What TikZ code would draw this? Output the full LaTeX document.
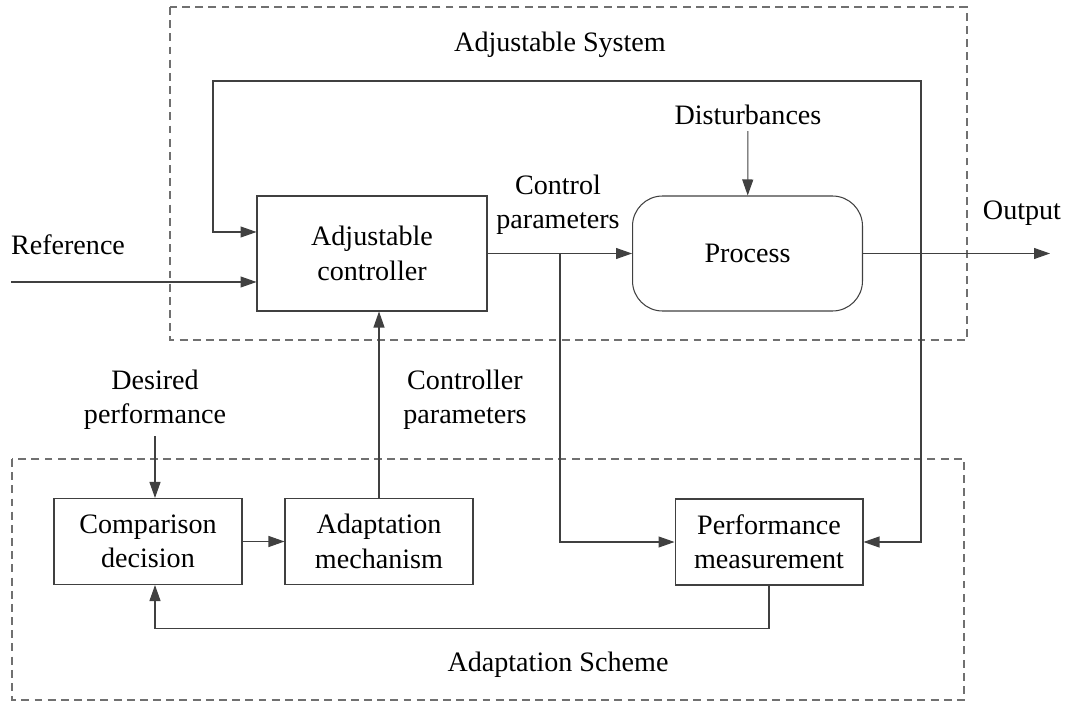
\documentclass[tikz,border=0pt]{standalone}
\usepackage{fontspec}
\setmainfont{Liberation Serif}
\usepackage{tikz}
\usetikzlibrary{arrows.meta}
\usetikzlibrary{positioning}
\definecolor{linegray}{HTML}{404040}
\definecolor{dashgray}{HTML}{707070}
\tikzset{
	block/.style={draw=linegray, line width=0.6pt, minimum width=4.6cm, minimum height=2.3cm, align=center},
	procblock/.style={block, rounded corners=0.6cm},
	smallblock/.style={draw=linegray, line width=0.6pt, minimum width=3.76cm, minimum height=1.72cm, align=center},
	txt/.style={align=center},
	frame/.style={draw=dashgray, dash pattern=on 4.5pt off 3pt, line width=0.6pt},
}
\tikzstyle{line} = [draw=linegray, line width=0.6pt, -{Triangle[length=3.2mm,width=2.2mm]}]

\begin{document}
\begin{tikzpicture}[x=0.02cm, y=-0.02cm, font=\fontsize{16}{19.5}\selectfont]
	\useasboundingbox (0,0) rectangle (1068,702);
	% dashed frames
	\draw[frame] (170,7) rectangle (967,340);
	\draw[frame] (12,459) rectangle (964,700);
	\node (sys) at (560,45) {Adjustable System};
	\node (scheme) at (558,665) {Adaptation Scheme};
	% blocks
	\node[block] (ctrl) at (372,253.5) {Adjustable\\controller};
	\node[procblock] (proc) at (747.5,253.5) {Process};
	\node[smallblock] (comp) at (148,541.5) {Comparison\\decision};
	\node[smallblock] (adapt) at (379,541.5) {Adaptation\\mechanism};
	\node[smallblock] (perf) at (769,542) {Performance\\measurement};
	% signal texts
	\node (ref) at (68,245) {Reference};
	\node[txt] (ctrlpar) at (558,205) {Control\\parameters};
	\node (dist) at (748,115) {Disturbances};
	\node (out) at (1022,213) {Output};
	\node[txt] (des) at (155,400) {Desired\\performance};
	\node[txt] (cpar) at (465,400) {Controller\\parameters};
	% free ends and branch points
	\coordinate (refin) at (11,282);
	\coordinate (outend) at (1050,253.5);
	\coordinate (tap) at (921,253.5);
	\coordinate (split) at (560,253.5);
	\coordinate (fbtop) at (213,81);
	\coordinate (fbin) at (213,232);
	% connectors
	\draw[line] (refin) -- (refin -| ctrl.west);
	\draw[line] (ctrl) -- (proc);
	\draw[line] (proc) -- (outend);
	\draw[line] (dist) -- (proc);
	\draw[line] (tap) |- (fbtop) |- (fbin -| ctrl.west);
	\draw[line] (tap) |- (perf.east);
	\draw[line] (split) |- (perf.west);
	\draw[line] (adapt.north) -- (adapt.north |- ctrl.south);
	\draw[line] (comp) -- (adapt);
	\draw[line] (des.south) -- (des.south |- comp.north);
	\draw[line] (perf.south) -- ++(0,43) -| (des.south |- comp.south);
\end{tikzpicture}
\end{document}
